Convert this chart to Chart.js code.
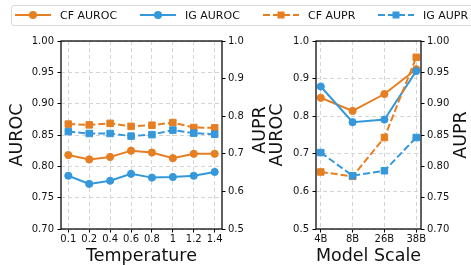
<!DOCTYPE html>
<html>
<head>
<meta charset="utf-8">
<script src="https://cdn.jsdelivr.net/npm/chart.js@4"></script>
<style>
  body { margin: 0; width: 471px; height: 265px; overflow: hidden; background: #fff; font-family: "DejaVu Sans", sans-serif; }
  canvas { position: absolute; top: 0; }
  #legend { position: absolute; left: 11px; top: 5px; width: 470px; height: 19px; border: 1px solid #d9d9d9; border-radius: 3px; background: #fff; z-index: 2; }
  .item { position: absolute; top: 0; height: 19px; }
  .item svg { position: absolute; top: 0; }
  .item span { position: absolute; top: 0; line-height: 19px; font-size: 11px; color: #111; white-space: nowrap; }
</style>
</head>
<body>
<div id="legend"></div>
<canvas id="tempChart" width="268" height="265" style="left:0"></canvas>
<canvas id="scaleChart" width="203" height="265" style="left:268px"></canvas>
<script>
const orange = '#e67e22';
const blue = '#3498db';

// left panel: temperature sweep
const tempLabels = ['0.1', '0.2', '0.4', '0.6', '0.8', '1', '1.2', '1.4'];
const tempCfAuroc = [0.818, 0.811, 0.815, 0.825, 0.822, 0.813, 0.820, 0.820];
const tempIgAuroc = [0.785, 0.772, 0.777, 0.788, 0.782, 0.783, 0.785, 0.791];
const tempCfAupr = [0.779, 0.777, 0.781, 0.773, 0.776, 0.783, 0.770, 0.769];
const tempIgAupr = [0.759, 0.754, 0.754, 0.747, 0.751, 0.763, 0.755, 0.752];

// right panel: model scale
const scaleLabels = ['4B', '8B', '26B', '38B'];
const scaleCfAuroc = [0.849, 0.814, 0.859, 0.925];
const scaleIgAuroc = [0.879, 0.784, 0.791, 0.920];
const scaleCfAupr = [0.791, 0.784, 0.846, 0.974];
const scaleIgAupr = [0.822, 0.785, 0.793, 0.846];

const legendItems = [
  { text: 'CF AUROC', color: orange, dashed: false, x: 3 },
  { text: 'IG AUROC', color: blue, dashed: false, x: 128 },
  { text: 'CF AUPR', color: orange, dashed: true, x: 251 },
  { text: 'IG AUPR', color: blue, dashed: true, x: 366 }
];

const legend = document.getElementById('legend');
legendItems.forEach(it => {
  const d = document.createElement('div');
  d.className = 'item';
  d.style.left = it.x + 'px';
  const mark = it.dashed
    ? '<rect x="14.5" y="5.5" width="7" height="7" fill="' + it.color + '"/>'
    : '<circle cx="18" cy="9" r="4" fill="' + it.color + '"/>';
  d.innerHTML = '<svg width="36" height="19"><line x1="0" y1="9" x2="36" y2="9" stroke="' + it.color +
    '" stroke-width="2"' + (it.dashed ? ' stroke-dasharray="7,3"' : '') + '/>' + mark + '</svg>' +
    '<span style="left:45px">' + it.text + '</span>';
  legend.appendChild(d);
});

const tickFont = { family: 'DejaVu Sans', size: 10 };
const titleFont = { family: 'DejaVu Sans', size: 17.5, lineHeight: 1 };

function series(values) {
  return values.map((v, i) => ({ x: i, y: v }));
}

function ds(values, color, dashed, axis, order) {
  return {
    data: series(values),
    yAxisID: axis,
    borderColor: color,
    backgroundColor: color,
    pointBackgroundColor: color,
    pointBorderColor: color,
    borderWidth: 2,
    borderDash: dashed ? [7, 3] : [],
    pointStyle: dashed ? 'rect' : 'circle',
    pointRadius: dashed ? 4.6 : 3.6,
    pointBorderWidth: 1,
    tension: 0,
    order: order
  };
}

const frame = {
  id: 'frame',
  afterDatasetsDraw(chart) {
    const a = chart.chartArea, c = chart.ctx;
    c.save();
    c.strokeStyle = '#000';
    c.lineWidth = 1.25;
    c.strokeRect(a.left, a.top, a.right - a.left, a.bottom - a.top);
    c.restore();
  }
};

const sideTitle = {
  id: 'sideTitle',
  afterDraw(chart, args, opts) {
    const c = chart.ctx;
    c.save();
    c.translate(opts.x, opts.y);
    c.rotate(-Math.PI / 2);
    c.font = '17.5px "DejaVu Sans"';
    c.fillStyle = '#111';
    c.textAlign = 'center';
    c.textBaseline = 'middle';
    c.fillText(opts.text, 0, 0);
    c.restore();
  }
};

function makeChart(id, labels, cfAuroc, igAuroc, cfAupr, igAupr, cfg) {
  const n = labels.length;
  const pad = (n - 1) * 0.05;
  return new Chart(document.getElementById(id), {
    type: 'line',
    data: {
      datasets: [
        ds(cfAuroc, orange, false, 'y', 3),
        ds(igAuroc, blue, false, 'y', 2),
        ds(cfAupr, orange, true, 'y1', 1),
        ds(igAupr, blue, true, 'y1', 0)
      ]
    },
    options: {
      responsive: false,
      animation: false,
      devicePixelRatio: 1,
      layout: { padding: { top: 41, left: 0, right: 0, bottom: 0 } },
      plugins: {
        legend: { display: false },
        tooltip: { enabled: false },
        sideTitle: { text: 'AUPR', x: cfg.rightTitleX, y: cfg.rightTitleY }
      },
      scales: {
        x: {
          type: 'linear',
          min: -pad,
          max: n - 1 + pad,
          afterBuildTicks: s => { s.ticks = labels.map((_, i) => ({ value: i })); },
          afterFit: s => { s.height = 36; },
          ticks: {
            autoSkip: false, maxRotation: 0, padding: 1, font: tickFont, color: '#111',
            callback: v => labels[v]
          },
          grid: { color: '#d4d4d4', lineWidth: 1, tickLength: 3.5, tickColor: '#000', tickWidth: 1 },
          border: { display: false, dash: [4, 3] },
          title: { display: true, text: cfg.xTitle, font: titleFont, color: '#111', padding: { top: 0, bottom: 0 } }
        },
        y: {
          position: 'left',
          min: cfg.leftMin, max: 1.0,
          afterFit: s => { s.width = cfg.leftWidth; },
          ticks: {
            stepSize: cfg.leftStep, padding: 3.5, font: tickFont, color: '#111',
            callback: v => v.toFixed(cfg.leftDigits)
          },
          grid: { color: '#d4d4d4', lineWidth: 1, tickLength: 3.5, tickColor: '#000', tickWidth: 1 },
          border: { display: false, dash: [4, 3] },
          title: { display: true, text: 'AUROC', font: titleFont, color: '#111', padding: { top: cfg.leftTitlePad, bottom: 0 } }
        },
        y1: {
          position: 'right',
          min: cfg.rightMin, max: 1.0,
          afterFit: s => { s.width = cfg.rightWidth; },
          ticks: {
            stepSize: cfg.rightStep, padding: 2.5, font: tickFont, color: '#111',
            callback: v => v.toFixed(cfg.rightDigits)
          },
          grid: { drawOnChartArea: false, tickLength: 3.5, tickColor: '#000', tickWidth: 1 },
          border: { display: false }
        }
      }
    },
    plugins: [frame, sideTitle]
  });
}

makeChart('tempChart', tempLabels, tempCfAuroc, tempIgAuroc, tempCfAupr, tempIgAupr, {
  xTitle: 'Temperature',
  leftMin: 0.7, leftStep: 0.05, leftDigits: 2, leftWidth: 61, leftTitlePad: 8.5,
  rightMin: 0.5, rightStep: 0.1, rightDigits: 1, rightWidth: 46,
  rightTitleX: 260.5, rightTitleY: 130
});

makeChart('scaleChart', scaleLabels, scaleCfAuroc, scaleIgAuroc, scaleCfAupr, scaleIgAupr, {
  xTitle: 'Model Scale',
  leftMin: 0.5, leftStep: 0.1, leftDigits: 1, leftWidth: 48, leftTitlePad: 0.5,
  rightMin: 0.7, rightStep: 0.05, rightDigits: 2, rightWidth: 50,
  rightTitleX: 193, rightTitleY: 135
});
</script>
</body>
</html>
